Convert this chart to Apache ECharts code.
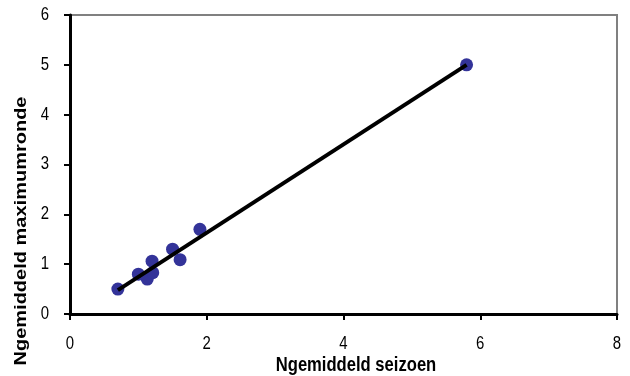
<!DOCTYPE html>
<html>
<head>
<meta charset="utf-8">
<script src="https://cdn.jsdelivr.net/npm/echarts@6/dist/echarts.min.js"></script>
<style>
  html, body { margin: 0; padding: 0; background: #fff; }
  #chart { width: 630px; height: 376px; }
</style>
</head>
<body>
<div id="chart"></div>
<script>
// Average per season (x) against average in the maximum round (y)
const seizoen = [0.70, 1.00, 1.13, 1.20, 1.21, 1.50, 1.61, 1.90, 5.80];
const maximumronde = [0.50, 0.80, 0.70, 1.06, 0.83, 1.30, 1.09, 1.70, 5.00];
// Trend line end points
const trendX = [0.70, 5.80];
const trendY = [0.48, 5.00];

const xTicks = [0, 2, 4, 6, 8];
const yTicks = [0, 1, 2, 3, 4, 5, 6];

const xTitle = 'Ngemiddeld seizoen';
const yTitle = 'Ngemiddeld maximumronde';

const points = seizoen.map((x, i) => [x, maximumronde[i]]);
const trend = trendX.map((x, i) => [x, trendY[i]]);

const font = '"Liberation Sans", Arial, sans-serif';
// the chart's lettering is slightly condensed horizontally
const squeeze = 0.83;

const chart = echarts.init(document.getElementById('chart'));
chart.setOption({
  animation: false,
  grid: { left: 70, right: 13, top: 15, bottom: 62, show: true, borderColor: '#808080', borderWidth: 2, backgroundColor: '#fff' },
  xAxis: {
    type: 'value', min: xTicks[0], max: xTicks[xTicks.length - 1], interval: 2,
    axisLine: { onZero: false, lineStyle: { color: '#000', width: 3 } },
    axisTick: { show: true, inside: false, length: 6, lineStyle: { color: '#000', width: 2 } },
    axisLabel: { show: false },
    splitLine: { show: false }
  },
  yAxis: {
    type: 'value', min: yTicks[0], max: yTicks[yTicks.length - 1], interval: 1,
    axisLine: { onZero: false, lineStyle: { color: '#000', width: 3 } },
    axisTick: { show: true, inside: false, length: 6, lineStyle: { color: '#000', width: 2 } },
    axisLabel: { show: false },
    splitLine: { show: false }
  },
  series: [
    {
      type: 'scatter', data: points, symbol: 'circle', symbolSize: 13,
      itemStyle: { color: '#333399', opacity: 1 }, z: 2
    },
    {
      type: 'line', data: trend, showSymbol: false, symbol: 'none',
      lineStyle: { color: '#000', width: 4 }, z: 3
    }
  ]
});

// Tick labels and axis titles, placed through the axis scales
const origin = chart.convertToPixel({ gridIndex: 0 }, [xTicks[0], yTicks[0]]);
const graphics = [];
xTicks.forEach(v => {
  const p = chart.convertToPixel({ gridIndex: 0 }, [v, yTicks[0]]);
  graphics.push({
    type: 'text', x: p[0], y: p[1] + 30, scaleX: squeeze,
    style: { text: String(v), font: '18px ' + font, fill: '#000', textAlign: 'center', textVerticalAlign: 'middle' }
  });
});
yTicks.forEach(v => {
  const p = chart.convertToPixel({ gridIndex: 0 }, [xTicks[0], v]);
  graphics.push({
    type: 'text', x: p[0] - 21, y: p[1], scaleX: squeeze,
    style: { text: String(v), font: '18px ' + font, fill: '#000', textAlign: 'right', textVerticalAlign: 'middle' }
  });
});
graphics.push({
  type: 'text', x: 356, y: origin[1] + 51, scaleX: squeeze,
  style: { text: xTitle, font: 'bold 20px ' + font, fill: '#000', textAlign: 'center', textVerticalAlign: 'middle' }
});
graphics.push({
  type: 'text', x: 21, y: 231, rotation: Math.PI / 2, scaleY: squeeze,
  style: { text: yTitle, font: 'bold 20px ' + font, fill: '#000', textAlign: 'center', textVerticalAlign: 'middle' }
});
chart.setOption({ graphic: graphics });
</script>
</body>
</html>
